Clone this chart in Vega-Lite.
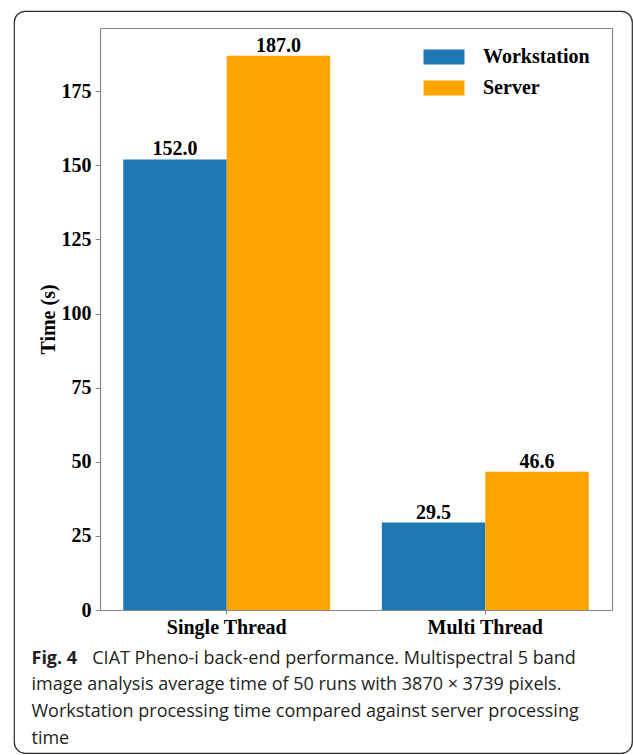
{
  "$schema": "https://vega.github.io/schema/vega-lite/v6.json",
  "width": 618,
  "height": 742,
  "autosize": {"type": "none"},
  "padding": {"left": 14, "top": 11, "right": 1, "bottom": 2},
  "background": "white",
  "config": {
    "view": {"stroke": "#2b2b2b", "strokeWidth": 1.2, "cornerRadius": 11},
    "axis": {"grid": false},
    "font": "Liberation Serif"
  },
  "data": {
    "values": [
      {"thread": "Single Thread", "machine": "Workstation", "time": 152.0},
      {"thread": "Single Thread", "machine": "Server", "time": 187.0},
      {"thread": "Multi Thread", "machine": "Workstation", "time": 29.5},
      {"thread": "Multi Thread", "machine": "Server", "time": 46.6}
    ]
  },
  "layer": [
    {
      "mark": {"type": "bar"},
      "encoding": {
        "x": {
          "field": "thread", "type": "nominal", "sort": ["Single Thread", "Multi Thread"],
          "scale": {"range": [86, 598], "paddingInner": 0.2, "paddingOuter": 0.09},
          "axis": {
            "orient": "bottom", "offset": -143,
            "domainColor": "#888888", "domainWidth": 1.2,
            "tickColor": "#888888", "tickSize": 4,
            "labelFont": "Liberation Serif", "labelFontWeight": "bold", "labelFontSize": 20,
            "labelColor": "black", "labelPadding": 3, "labelAngle": 0,
            "title": [
              "\u200b\u00a0\u00a0\u00a0\u00a0\u00a0\u00a0\u00a0\u00a0\u00a0\u00a0\u00a0\u00a0\u00a0CIAT Pheno-i back-end performance. Multispectral 5 band",
              "image analysis average time of 50 runs with 3870 \u00d7 3739 pixels.",
              "Workstation processing time compared against server processing",
              "time"
            ],
            "titleFont": "Open Sans", "titleFontWeight": "normal", "titleFontSize": 18,
            "titleColor": "#231f20", "titleAlign": "left", "titleAnchor": "start",
            "titleX": 17, "titleY": 53, "titleBaseline": "alphabetic", "titleLineHeight": 26.7
          }
        },
        "xOffset": {
          "field": "machine", "type": "nominal", "sort": ["Workstation", "Server"],
          "scale": {"paddingInner": 0, "paddingOuter": 0}
        },
        "y": {
          "field": "time", "type": "quantitative",
          "scale": {"domain": [0, 196.35], "range": [599, 17], "nice": false},
          "axis": {
            "orient": "left", "offset": -86,
            "values": [0, 25, 50, 75, 100, 125, 150, 175],
            "domainColor": "#888888", "domainWidth": 1.2,
            "tickColor": "#888888", "tickSize": 5, "labelPadding": 4,
            "labelFont": "Liberation Serif", "labelFontWeight": "bold", "labelFontSize": 20,
            "labelColor": "black",
            "title": "Time (s)",
            "titleFont": "Liberation Serif", "titleFontWeight": "bold", "titleFontSize": 20,
            "titleColor": "black", "titleX": -52, "titleY": 308, "titleAngle": -90,
            "titleAlign": "center", "titleBaseline": "middle"
          }
        },
        "color": {
          "field": "machine", "type": "nominal", "sort": ["Workstation", "Server"],
          "scale": {"range": ["#1f77b4", "#ffa500"]},
          "legend": {
            "title": null, "orient": "none", "legendX": 420, "legendY": 36,
            "symbolType": "M-2.73,-1H2.73V1H-2.73Z", "symbolSize": 225,
            "symbolStrokeWidth": 0, "symbolOpacity": 1,
            "labelFont": "Liberation Serif", "labelFontWeight": "bold", "labelFontSize": 20,
            "labelColor": "black", "labelOffset": 29, "rowPadding": 11
          }
        }
      }
    },
    {
      "mark": {
        "type": "text", "font": "Liberation Serif", "fontWeight": "bold", "fontSize": 20,
        "baseline": "alphabetic", "dy": -4, "color": "black"
      },
      "encoding": {
        "x": {
          "field": "thread", "type": "nominal", "sort": ["Single Thread", "Multi Thread"],
          "scale": {"range": [86, 598], "paddingInner": 0.2, "paddingOuter": 0.09},
          "axis": {
            "orient": "top", "offset": -17,
            "domainColor": "#888888", "domainWidth": 1.2,
            "ticks": false, "labels": false,
            "title": "Fig. 4",
            "titleFont": "Open Sans", "titleFontWeight": "bold", "titleFontSize": 18,
            "titleColor": "#231f20", "titleAlign": "left", "titleAnchor": "start",
            "titleX": 17, "titleY": 635, "titleBaseline": "alphabetic", "titleAngle": 0
          }
        },
        "xOffset": {
          "field": "machine", "type": "nominal", "sort": ["Workstation", "Server"],
          "scale": {"paddingInner": 0, "paddingOuter": 0}
        },
        "y": {
          "field": "time", "type": "quantitative",
          "scale": {"domain": [0, 196.35], "range": [599, 17], "nice": false},
          "axis": {
            "orient": "right", "offset": -20,
            "domainColor": "#888888", "domainWidth": 1.2,
            "ticks": false, "labels": false, "title": null
          }
        },
        "text": {"field": "time", "type": "quantitative", "format": ".1f"}
      }
    }
  ],
  "resolve": {"axis": {"x": "independent", "y": "independent"}}
}
